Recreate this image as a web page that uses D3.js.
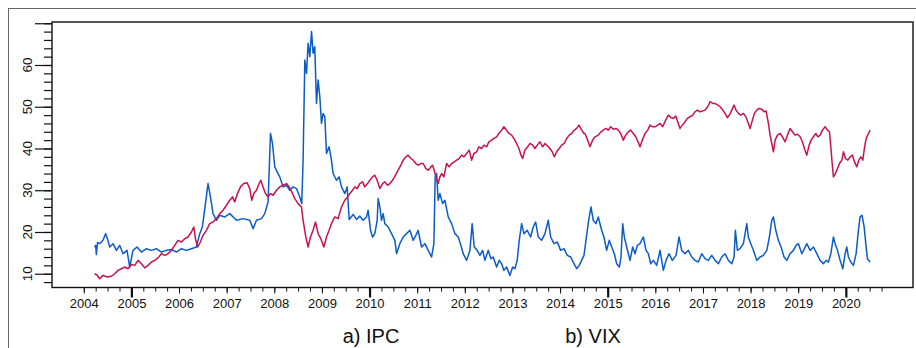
<!DOCTYPE html>
<html><head><meta charset="utf-8">
<script src="https://cdn.jsdelivr.net/npm/d3@7"></script>
<style>
html,body{margin:0;padding:0;background:#fff;}
svg{display:block;font-family:"Liberation Sans",Arial,sans-serif;}
</style></head>
<body>
<svg id="chart" width="916" height="348"></svg>
<script>
// ---- data (decimal years, values) ----
const seriesNames = ["a) IPC", "b) VIX"];
const yearLabels = [2004,2005,2006,2007,2008,2009,2010,2011,2012,2013,2014,2015,2016,2017,2018,2019,2020];
const yTickLabels = [10,20,30,40,50,60];

const vixDates = [2004.229,2004.25,2004.264,2004.29,2004.334,2004.404,2004.46,2004.508,2004.544,2004.614,2004.685,2004.754,2004.824,2004.908,2004.964,2005.034,2005.118,2005.21,2005.315,2005.42,2005.525,2005.63,2005.735,2005.84,2005.945,2006.05,2006.155,2006.26,2006.365,2006.435,2006.49,2006.546,2006.609,2006.66,2006.714,2006.785,2006.855,2006.96,2007.065,2007.206,2007.344,2007.485,2007.555,2007.626,2007.731,2007.8,2007.87,2007.92,2007.962,2008.01,2008.059,2008.115,2008.185,2008.256,2008.325,2008.395,2008.466,2008.535,2008.577,2008.605,2008.641,2008.677,2008.71,2008.746,2008.782,2008.815,2008.85,2008.886,2008.92,2008.956,2008.991,2009.025,2009.061,2009.096,2009.151,2009.2,2009.235,2009.306,2009.361,2009.411,2009.48,2009.53,2009.572,2009.656,2009.727,2009.796,2009.866,2009.937,2009.97,2010.021,2010.063,2010.111,2010.16,2010.181,2010.216,2010.252,2010.286,2010.321,2010.391,2010.462,2010.532,2010.567,2010.636,2010.706,2010.777,2010.846,2010.916,2010.972,2011.021,2011.092,2011.162,2011.232,2011.302,2011.351,2011.378,2011.408,2011.441,2011.477,2011.534,2011.582,2011.652,2011.723,2011.792,2011.862,2011.918,2011.966,2012.038,2012.107,2012.155,2012.197,2012.26,2012.317,2012.374,2012.422,2012.492,2012.548,2012.597,2012.668,2012.723,2012.773,2012.821,2012.878,2012.947,2013.004,2013.052,2013.1,2013.143,2013.193,2013.241,2013.311,2013.382,2013.437,2013.487,2013.542,2013.613,2013.683,2013.752,2013.803,2013.872,2013.941,2014.013,2014.082,2014.151,2014.223,2014.292,2014.349,2014.403,2014.454,2014.502,2014.544,2014.6,2014.649,2014.697,2014.754,2014.802,2014.873,2014.921,2014.978,2015.033,2015.084,2015.139,2015.189,2015.244,2015.279,2015.315,2015.349,2015.399,2015.469,2015.525,2015.574,2015.622,2015.679,2015.748,2015.805,2015.853,2015.903,2015.958,2016.029,2016.099,2016.168,2016.225,2016.288,2016.357,2016.435,2016.498,2016.554,2016.624,2016.693,2016.765,2016.834,2016.903,2016.975,2017.044,2017.113,2017.185,2017.254,2017.324,2017.395,2017.464,2017.534,2017.605,2017.653,2017.681,2017.723,2017.779,2017.849,2017.92,2017.953,2018.004,2018.059,2018.13,2018.199,2018.269,2018.34,2018.395,2018.445,2018.479,2018.529,2018.584,2018.64,2018.703,2018.76,2018.829,2018.899,2018.956,2019.004,2019.076,2019.13,2019.181,2019.25,2019.32,2019.391,2019.46,2019.53,2019.586,2019.635,2019.685,2019.74,2019.775,2019.824,2019.88,2019.937,2019.985,2020.02,2020.054,2020.104,2020.159,2020.216,2020.264,2020.299,2020.341,2020.384,2020.419,2020.453,2020.51];
const vixValues = [16.3,16.8,14.6,17.5,17.2,18,19.6,18,16.4,17.2,15.6,16.8,14.8,15.6,11.6,15.6,16.4,15.2,16,15.6,16,15.2,15.6,15.8,15.2,16,15.6,16,16.4,19.6,21.2,26,31.6,28.4,24.4,22.8,24,23.6,24.4,22.8,23.2,22.8,20.8,22.8,23.2,24.4,27.2,43.6,41.2,35.6,34.4,33.2,30.8,31.2,30,30.8,30.4,28.4,26.8,37.2,61.2,58,65.2,62,68,62.8,64.4,50.8,56.4,52.4,46,48.4,47.6,38.8,40.4,37.2,34,32.4,33.2,30.8,29.2,30.8,23,24.2,23,23.8,22.8,23.6,25.2,20.4,18.8,19.6,22.8,28,26,22.8,24.4,22,21.2,19.6,18,14.8,17.2,18.8,19.6,20.4,18,19.2,20.4,16.4,17.2,15.6,14,17.2,33.2,34,27.6,29.2,26.8,27.6,23.6,22,19.6,18.8,16.8,14.8,13.2,15.6,22,16.4,15.6,14.4,15.6,13.2,15.6,13.6,14,11.6,13.2,12.4,10.8,11.6,9.6,11.6,11.2,13.2,18,22,19.6,20.4,18.8,21.2,22.4,18.8,18,19.6,22.8,18.8,17.2,17.6,15.6,16,14.4,14,12.4,11.2,12,13.2,14.4,18,22.8,26,22.8,22,23.6,20.4,18.8,15.6,18,16.4,14.8,12.4,11.6,14,22,18.8,16.4,13.2,16.4,14.8,16.8,17.2,18.8,15.6,14.8,12.4,13.2,12,15.6,10.8,13.2,14.8,13.2,14.4,18.8,15.6,14.8,15.6,14,13.2,12.8,14.8,13.6,13.2,14.4,13.2,12.4,14,14.8,13.2,12.4,14,20.4,15.6,16,17.2,22,18.8,17.2,15.6,13.2,14,14.4,15.6,18.8,22.8,23.6,20.4,18,16.4,14,13.2,14.8,15.6,16.8,17.2,14.8,16,17.2,15.6,16.4,14.8,13.2,12.4,13.2,12.8,14.8,18.8,17.2,15.6,13.2,11.2,14.8,16.4,14,12.8,12,14.8,20.4,23.6,24,21.2,17.2,13.6,12.8];

const ipcDates = [2004.229,2004.277,2004.334,2004.404,2004.488,2004.58,2004.649,2004.719,2004.79,2004.859,2004.929,2005,2005.069,2005.139,2005.21,2005.28,2005.349,2005.42,2005.489,2005.559,2005.63,2005.7,2005.769,2005.84,2005.91,2005.979,2006.05,2006.12,2006.189,2006.26,2006.309,2006.351,2006.393,2006.449,2006.504,2006.575,2006.645,2006.714,2006.785,2006.855,2006.924,2006.996,2007.065,2007.122,2007.17,2007.227,2007.29,2007.359,2007.428,2007.485,2007.527,2007.569,2007.626,2007.681,2007.716,2007.764,2007.815,2007.87,2007.92,2007.975,2008.046,2008.115,2008.185,2008.256,2008.311,2008.367,2008.43,2008.5,2008.571,2008.605,2008.662,2008.71,2008.76,2008.815,2008.865,2008.92,2008.977,2009.04,2009.096,2009.151,2009.2,2009.271,2009.34,2009.411,2009.48,2009.537,2009.586,2009.642,2009.691,2009.74,2009.796,2009.853,2009.901,2009.958,2010.006,2010.063,2010.111,2010.16,2010.216,2010.273,2010.321,2010.378,2010.427,2010.483,2010.546,2010.6,2010.658,2010.706,2010.763,2010.811,2010.868,2010.916,2010.972,2011.021,2011.078,2011.126,2011.183,2011.232,2011.288,2011.323,2011.357,2011.393,2011.441,2011.477,2011.513,2011.561,2011.618,2011.672,2011.723,2011.777,2011.828,2011.882,2011.933,2011.981,2012.038,2012.093,2012.143,2012.191,2012.248,2012.296,2012.353,2012.401,2012.458,2012.506,2012.563,2012.611,2012.668,2012.716,2012.773,2012.821,2012.878,2012.926,2012.983,2013.031,2013.088,2013.137,2013.179,2013.214,2013.262,2013.319,2013.368,2013.424,2013.472,2013.521,2013.577,2013.634,2013.683,2013.739,2013.787,2013.836,2013.878,2013.928,2013.983,2014.034,2014.088,2014.139,2014.193,2014.244,2014.298,2014.349,2014.397,2014.454,2014.502,2014.523,2014.592,2014.628,2014.684,2014.733,2014.802,2014.859,2014.908,2014.964,2015.013,2015.063,2015.118,2015.174,2015.223,2015.273,2015.328,2015.378,2015.433,2015.483,2015.538,2015.588,2015.637,2015.679,2015.727,2015.784,2015.84,2015.889,2015.945,2015.994,2016.05,2016.099,2016.155,2016.218,2016.273,2016.33,2016.378,2016.428,2016.47,2016.519,2016.567,2016.624,2016.672,2016.729,2016.786,2016.834,2016.882,2016.939,2016.995,2017.044,2017.1,2017.149,2017.206,2017.254,2017.311,2017.359,2017.416,2017.464,2017.513,2017.555,2017.605,2017.653,2017.695,2017.744,2017.794,2017.849,2017.9,2017.941,2017.99,2018.038,2018.08,2018.13,2018.179,2018.235,2018.283,2018.325,2018.374,2018.41,2018.445,2018.479,2018.515,2018.564,2018.62,2018.669,2018.725,2018.774,2018.83,2018.879,2018.935,2018.983,2019.04,2019.088,2019.13,2019.181,2019.229,2019.271,2019.32,2019.37,2019.412,2019.46,2019.508,2019.565,2019.614,2019.656,2019.685,2019.713,2019.74,2019.782,2019.824,2019.866,2019.916,2019.95,2019.992,2020.042,2020.09,2020.138,2020.181,2020.23,2020.273,2020.315,2020.357,2020.384,2020.412,2020.441,2020.475,2020.51];
const ipcValues = [10,9.7,8.8,9.6,9.2,9.4,10,10.8,11.2,11.6,11.2,12.2,12,13.2,12.4,11.4,12,12.8,13.2,13.8,14.8,14.4,14.8,15.6,16.8,18,17.6,18.4,18.8,20,21.2,18,16.4,17.6,19.2,20.4,22,22.4,23.2,24.4,25.2,26.4,27.6,28.4,27.2,29.2,30.8,31.6,31.8,30.4,27.6,29.2,30,31.6,32.4,30.8,29.2,28.4,29.2,28.8,30,30.8,31.2,31.6,30.8,29.6,28,26.8,26,22.8,18.8,16.4,18.8,20.4,22.4,19.6,18.4,16.4,18.8,20.4,22,23.6,23.2,26,27.6,28.4,29.2,30,30.8,30.4,31.6,32,30.8,31.6,32.4,33.2,33.6,32.4,30.4,31.6,32,31.2,31.6,32.4,33.6,34.8,36,37.2,38,38.4,37.6,37.2,36.4,36,36.4,36.4,35.2,34.8,35.6,36,34.8,33.2,31.6,33.2,34,33.2,36.4,35.6,36.4,36.8,37.2,37.6,38.4,38,38.8,39.6,37.2,38.8,39.2,40.4,40,40.8,40.4,41.6,42,42.4,42.8,43.6,44.4,45.2,44.4,43.6,43.2,42.4,41.2,40,38.4,37.6,39.6,40.4,41.2,40.8,40,40.8,41.6,40.4,41.2,40.6,40,39.2,38,39.2,40,40.8,41.2,42.4,43.2,43.6,44.4,44.8,45.6,44.4,43.6,43.6,41.6,40.4,42,42.8,43.2,44,44.4,44.8,44.4,45.2,44.6,44.8,44.4,43.6,42,43.2,44,44.4,43.6,42.8,41.6,40.4,42,43.6,44.4,45.6,45.2,45.2,45.6,46,45.2,46.8,48,47.4,47.2,47.8,46.4,44.8,45.6,46.4,47.2,47.6,48,48.8,49.2,48.8,49,49.2,50,51.2,50.8,50.8,50.4,50,49.2,48.4,47.4,48,49.2,50.4,49.2,48.4,48,48.4,47.6,46.4,44.8,46.8,48.4,49.2,49.6,49.4,48.8,49,46,43.2,41.2,39.2,42,43.2,43.6,42.8,41.6,43.2,44.8,44,43.2,43.4,42.8,41.6,40,38.4,40.8,42,42.8,43.6,42.8,43.2,44.4,45.2,44.4,44,40.4,36.4,33.2,34,35.2,36.4,37.2,39.2,37.6,37.2,38,38.4,36.8,35.6,37.2,38,37.2,39.6,41.6,42.8,43.6,44.4];

const ipcColor = "#c8124f";
const vixColor = "#0b5cc6";

// ---- layout ----
const svg = d3.select("#chart");
const pLeft = 52, pRight = 913, pTop = 22, pBottom = 287.5;
const x = d3.scaleLinear().domain([2003.333, 2021.41]).range([pLeft, pRight]);
const y = d3.scaleLinear().domain([6.7, 70.3]).range([pBottom, pTop]);

// outer frame
svg.append("rect").attr("x", 8.5).attr("y", 8.5).attr("width", 920).attr("height", 360)
  .attr("fill", "none").attr("stroke", "#666").attr("stroke-width", 1);

// lines
const line = d3.line().x(d => x(d[0])).y(d => y(d[1]));
const vixData = vixDates.map((d, i) => [d, vixValues[i]]);
const ipcData = ipcDates.map((d, i) => [d, ipcValues[i]]);
svg.append("path").datum(vixData).attr("d", line).attr("fill", "none")
  .attr("stroke", vixColor).attr("stroke-width", 1.5).attr("stroke-linejoin", "round");
svg.append("path").datum(ipcData).attr("d", line).attr("fill", "none")
  .attr("stroke", ipcColor).attr("stroke-width", 1.5).attr("stroke-linejoin", "round");

// plot box
svg.append("rect").attr("x", pLeft).attr("y", pTop).attr("width", pRight - pLeft).attr("height", pBottom - pTop)
  .attr("fill", "none").attr("stroke", "#111").attr("stroke-width", 1.4);

// x axis ticks
const quarters = d3.range(2004, 2020.76, 0.25);
const gx = svg.append("g").attr("transform", `translate(0,${pBottom})`);
gx.append("g").call(d3.axisBottom(x).tickValues(quarters).tickSize(4).tickFormat(""))
  .call(g => g.select(".domain").remove());
gx.append("g").call(d3.axisBottom(x).tickValues(yearLabels).tickSize(6).tickPadding(5).tickFormat(d3.format("d")))
  .call(g => g.select(".domain").remove())
  .call(g => g.selectAll("text").attr("font-size", 13).attr("fill", "#111").attr("font-family", "Liberation Sans, Arial, sans-serif"));
gx.append("g").call(d3.axisBottom(x).tickValues([2005, 2010, 2015, 2020]).tickSize(10).tickFormat(""))
  .call(g => g.select(".domain").remove())
  .call(g => g.selectAll("line").attr("stroke-width", 2.2));
gx.selectAll("line").attr("stroke", "#111");

// y axis ticks
const gy = svg.append("g").attr("transform", `translate(${pLeft},0)`);
gy.append("g").call(d3.axisLeft(y).tickValues(d3.range(8, 71, 2)).tickSize(8).tickFormat(""))
  .call(g => g.select(".domain").remove());
gy.append("g").call(d3.axisLeft(y).tickValues([10,20,30,40,50,60,70]).tickSize(17).tickFormat(""))
  .call(g => g.select(".domain").remove());
gy.selectAll("line").attr("stroke", "#111").attr("stroke-width", 1.2);

svg.append("g").selectAll("text").data(yTickLabels).join("text")
  .attr("transform", d => `translate(32,${y(d)}) rotate(-90)`)
  .attr("text-anchor", "middle").attr("font-size", 13.5).attr("fill", "#111")
  .text(d => d);

// series captions
svg.append("text").attr("x", 371).attr("y", 343).attr("text-anchor", "middle")
  .attr("font-size", 20).attr("fill", "#111").text(seriesNames[0]);
svg.append("text").attr("x", 593).attr("y", 343).attr("text-anchor", "middle")
  .attr("font-size", 20).attr("fill", "#111").text(seriesNames[1]);
</script>
</body></html>
